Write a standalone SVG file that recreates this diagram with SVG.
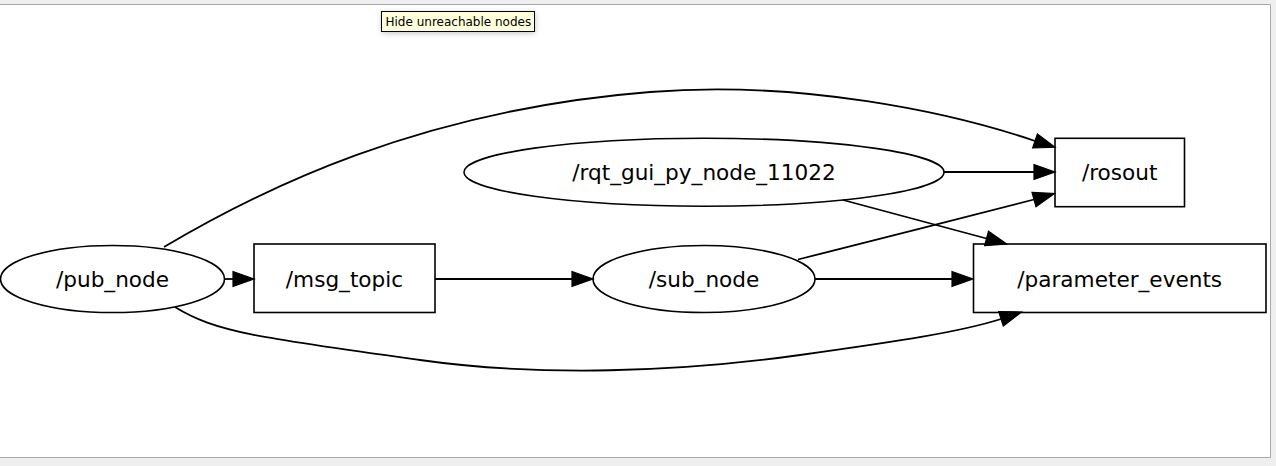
<svg xmlns="http://www.w3.org/2000/svg" width="1276" height="466" viewBox="0 0 1276 466">
  <defs>
    <style>
      .node { fill: none; stroke: #000; stroke-width: 1.6; }
      .label { font-family: "DejaVu Sans", "Liberation Sans", sans-serif; font-size: 21.6px; fill: #000; text-anchor: middle; }
      .edge { fill: none; stroke: #000; stroke-width: 1.8; }
      .head { fill: #000; stroke: #000; stroke-width: 1.2; stroke-linejoin: miter; }
      .tip { font-family: "DejaVu Sans", "Liberation Sans", sans-serif; font-size: 12px; fill: #000; }
    </style>
    <filter id="shadow" x="-20%" y="-50%" width="140%" height="200%">
      <feGaussianBlur stdDeviation="3"/>
    </filter>
  </defs>

  <!-- window background and canvas -->
  <rect x="0" y="0" width="1276" height="466" fill="#efefef"/>
  <rect x="0" y="4.5" width="1270" height="452.5" fill="#ffffff"/>
  <path d="M0,4.5 H1270.5 V457.5 H0" fill="none" stroke="#a8a8a8" stroke-width="1"/>

  <!-- connectors -->
  <g id="connectors">
    <!-- /pub_node -> /msg_topic -->
    <path class="edge" d="M224,279 L233,279"/>
    <polygon class="head" points="233,271.5 254,279 233,286.5"/>
    <!-- /msg_topic -> /sub_node -->
    <path class="edge" d="M435,279 L572,279"/>
    <polygon class="head" points="572,271.5 593,279 572,286.5"/>
    <!-- /sub_node -> /parameter_events -->
    <path class="edge" d="M815,279 L952,279"/>
    <polygon class="head" points="952,271.5 973,279 952,286.5"/>
    <!-- /rqt_gui_py_node -> /rosout -->
    <path class="edge" d="M944,172 L1034,172"/>
    <polygon class="head" points="1034,164.5 1055,172 1034,179.5"/>
    <!-- /sub_node -> /rosout -->
    <path class="edge" d="M798,259.5 C870,241 960,219 1034,199.5"/>
    <polygon class="head" points="1032,192.3 1054.5,193.5 1036,206.8"/>
    <!-- /rqt_gui_py_node -> /parameter_events -->
    <path class="edge" d="M843,200 L986.5,238.5"/>
    <polygon class="head" points="984.6,245.7 1006.8,244 988.5,231.3"/>
    <!-- /pub_node -> /rosout -->
    <path class="edge" d="M164,247 C260,190 420,110 650,92 C800,80 950,112 1035,141"/>
    <polygon class="head" points="1032.6,148 1055,147.3 1037.4,134"/>
    <!-- /pub_node -> /parameter_events -->
    <path class="edge" d="M175,307 C215,332 260,338 420,360 C540,377 680,372 800,355 C900,341 960,332 1001,319"/>
    <polygon class="head" points="1003.3,326 1021.5,312 998.7,311.6"/>
  </g>

  <!-- nodes -->
  <g id="pub_node">
    <ellipse class="node" cx="112.5" cy="279" rx="112" ry="33.5"/>
    <text class="label" x="112.5" y="287">/pub_node</text>
  </g>
  <g id="msg_topic">
    <rect class="node" x="254" y="244" width="181" height="68.5"/>
    <text class="label" x="344.5" y="287">/msg_topic</text>
  </g>
  <g id="sub_node">
    <ellipse class="node" cx="704" cy="279" rx="111" ry="33.5"/>
    <text class="label" x="704" y="287">/sub_node</text>
  </g>
  <g id="rqt_gui_py_node_11022">
    <ellipse class="node" cx="704" cy="172.2" rx="240" ry="34"/>
    <text class="label" x="704" y="180">/rqt_gui_py_node_11022</text>
  </g>
  <g id="rosout">
    <rect class="node" x="1055" y="138.3" width="129.5" height="68.4"/>
    <text class="label" x="1119.7" y="180">/rosout</text>
  </g>
  <g id="parameter_events">
    <rect class="node" x="973.5" y="244" width="292.5" height="68.5"/>
    <text class="label" x="1119.7" y="287">/parameter_events</text>
  </g>

  <!-- tooltip -->
  <g id="tooltip">
    <rect x="382" y="13" width="153" height="20" fill="#000" opacity="0.25" filter="url(#shadow)"/>
    <rect x="381.5" y="11.5" width="153" height="20" fill="#ffffdc" stroke="#000" stroke-width="1"/>
    <text class="tip" x="385.5" y="25.5">Hide unreachable nodes</text>
  </g>
</svg>
